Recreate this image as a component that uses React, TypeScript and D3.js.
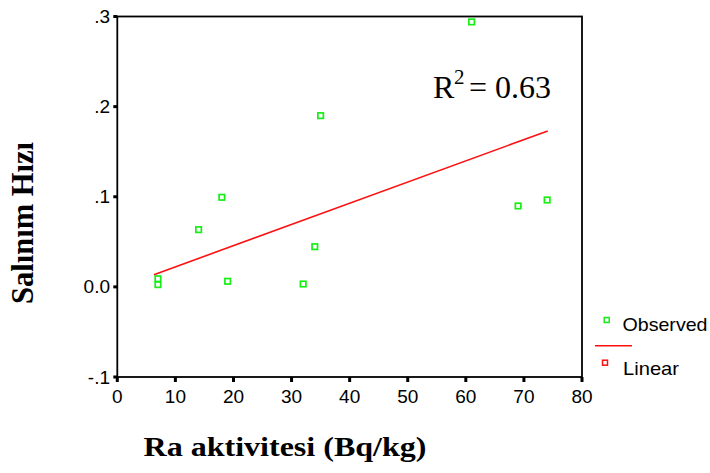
import React from "react";
import * as d3 from "d3";

// Radium activity (Bq/kg) vs. release rate
const raActivity = [7, 7, 14, 18, 19, 32, 34, 35, 61, 69, 74];
const releaseRate = [0.009, 0.0025, 0.0635, 0.0994, 0.0062, 0.0032, 0.0446, 0.19, 0.294, 0.0898, 0.0964];

// Linear fit drawn across the observed range
const fitX = [6.3, 74.1];
const fitY = [0.0135, 0.173];

const xTicks = [0, 10, 20, 30, 40, 50, 60, 70, 80];
const yTicks = [-0.1, 0, 0.1, 0.2, 0.3];
const yTickLabels = ["-.1", "0.0", ".1", ".2", ".3"];

const rSquared = "0.63";

const W = 710;
const H = 473;
const left = 117.3;
const right = 582;
const top = 16.5;
const bottom = 377;

const GREEN = "#16ee16";
const RED = "#ff1010";
const SANS = "'Liberation Sans', Arial, sans-serif";
const SERIF = "'Liberation Serif', 'Times New Roman', serif";

export default function App() {
  const x = d3.scaleLinear().domain([0, 80]).range([left, right]);
  const y = d3.scaleLinear().domain([-0.1, 0.3]).range([bottom, top]);

  const fitLine = d3
    .line<number>()
    .x((d) => x(d))
    .y((_, i) => y(fitY[i]))(fitX);

  const markerSize = 5.5;

  return (
    <svg
      width={W}
      height={H}
      style={{ position: "absolute", left: 0, top: 0, background: "#fff" }}
    >
      {/* plot frame */}
      <rect
        x={left}
        y={top}
        width={right - left}
        height={bottom - top}
        fill="none"
        stroke="#000"
        strokeWidth={1.8}
      />

      {/* y ticks */}
      {yTicks.map((t, i) => (
        <g key={"y" + i}>
          <line x1={left - 4} x2={left} y1={y(t)} y2={y(t)} stroke="#000" strokeWidth={3} />
          <text
            x={110}
            y={y(t)}
            textAnchor="end"
            dominantBaseline="central"
            fontFamily={SANS}
            fontSize={19}
          >
            {yTickLabels[i]}
          </text>
        </g>
      ))}

      {/* x ticks */}
      {xTicks.map((t) => (
        <g key={"x" + t}>
          <line x1={x(t)} x2={x(t)} y1={bottom} y2={bottom + 5} stroke="#000" strokeWidth={3} />
          <text
            x={x(t)}
            y={402.5}
            textAnchor="middle"
            fontFamily={SANS}
            fontSize={19}
          >
            {t}
          </text>
        </g>
      ))}

      {/* fit line */}
      <path d={fitLine ?? ""} fill="none" stroke={RED} strokeWidth={1.6} />

      {/* observed points */}
      {raActivity.map((v, i) => (
        <rect
          key={"p" + i}
          x={x(v) - markerSize / 2}
          y={y(releaseRate[i]) - markerSize / 2}
          width={markerSize}
          height={markerSize}
          fill="none"
          stroke={GREEN}
          strokeWidth={1.7}
        />
      ))}

      {/* R squared annotation */}
      <text fontFamily={SERIF} fontSize={32} y={98}>
        <tspan x={433}>R</tspan>
        <tspan x={454} y={84} fontSize={21}>2</tspan>
        <tspan x={469} y={98}>=</tspan>
        <tspan x={495} y={98}>{rSquared}</tspan>
      </text>

      {/* legend */}
      <rect
        x={606.7 - 2.5}
        y={320 - 2.5}
        width={5}
        height={5}
        fill="none"
        stroke={GREEN}
        strokeWidth={1.5}
      />
      <text x={622.5} y={331} fontFamily={SANS} fontSize={19} textLength={85} lengthAdjust="spacingAndGlyphs">
        Observed
      </text>
      <line x1={595} x2={632} y1={345.7} y2={345.7} stroke={RED} strokeWidth={1.5} />
      <rect
        x={605 - 2.5}
        y={362.7 - 2.5}
        width={5}
        height={5}
        fill="none"
        stroke={RED}
        strokeWidth={1.5}
      />
      <text x={623} y={375} fontFamily={SANS} fontSize={19} textLength={56} lengthAdjust="spacingAndGlyphs">
        Linear
      </text>

      {/* axis titles */}
      <text
        transform="translate(33,223) rotate(-90)"
        textAnchor="middle"
        fontFamily={SERIF}
        fontWeight="bold"
        fontSize={32}
        textLength={162}
        lengthAdjust="spacingAndGlyphs"
      >
        Salınım Hızı
      </text>
      <text
        x={285}
        y={456}
        textAnchor="middle"
        fontFamily={SERIF}
        fontWeight="bold"
        fontSize={27}
        textLength={283}
        lengthAdjust="spacingAndGlyphs"
      >
        Ra aktivitesi (Bq/kg)
      </text>
    </svg>
  );
}
